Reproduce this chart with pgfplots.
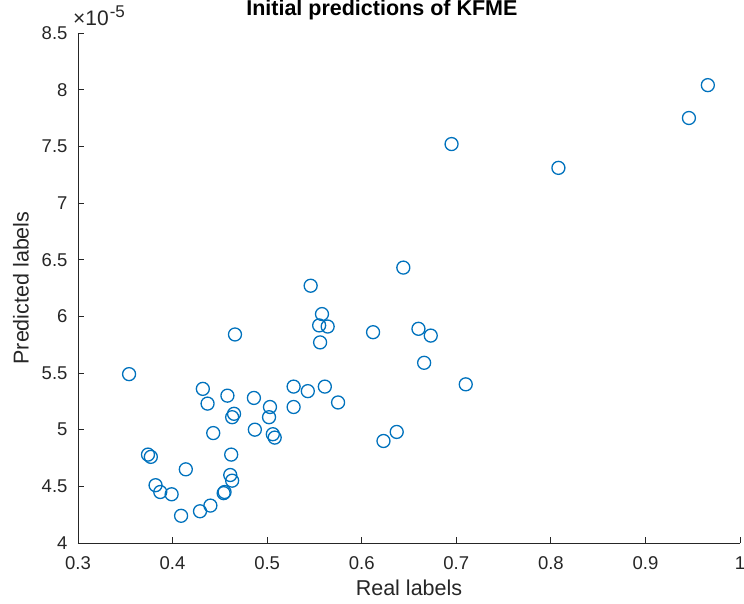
\documentclass[border=0pt]{standalone}
\usepackage{pgfplots}
\pgfplotsset{compat=1.18}
\usepackage{fontspec}
\setmainfont{Liberation Sans}
\definecolor{mblue}{rgb}{0,0.447,0.741}
\definecolor{axgray}{rgb}{0.15,0.15,0.15}
\begin{document}
\begin{tikzpicture}
\begin{axis}[
  at={(0pt,0pt)}, anchor=south west,
  width=662pt, height=510pt, scale only axis,
  xmin=0.3, xmax=1, ymin=4e-5, ymax=8.5e-5,
  xtick={0.3,0.4,...,1.0},
  xticklabels={0.3,0.4,0.5,0.6,0.7,0.8,0.9,1},
  ytick={4e-5,4.5e-5,5e-5,5.5e-5,6e-5,6.5e-5,7e-5,7.5e-5,8e-5,8.5e-5},
  scaled y ticks=base 10:5,
  ytick scale label code/.code={\mbox{\fontsize{21}{24}\selectfont ×10\kern1pt\raisebox{8pt}{\fontsize{17}{19}\selectfont -5}}},
  every y tick scale label/.style={at={(rel axis cs:0,1)}, anchor=base west, xshift=2pt, yshift=7pt, inner sep=0pt, text=axgray},
  axis x line*=bottom, axis y line*=left,
  axis line style={axgray, line width=0.8pt, -},
  tick style={axgray, line width=0.8pt},
  major tick length=6pt,
  tick align=inside,
  /pgf/number format/assume math mode=true,
  ticklabel style={font=\fontsize{18.5}{22}\selectfont, text=axgray},
  xticklabel style={yshift=-10pt},
  yticklabel style={xshift=-7pt},
  xlabel={Real labels}, ylabel={Predicted labels},
  label style={font=\fontsize{21.5}{24}\selectfont, text=axgray},
  xlabel style={yshift=-3pt},
  ylabel style={yshift=6pt},
  title={\textbf{Initial predictions of KFME}},
  title style={font=\fontsize{21.5}{24}\selectfont, at={(rel axis cs:0.459,1)}, anchor=base, yshift=11pt, inner sep=0pt},
  clip=false,
]
\addplot[only marks, mark=o, mark size=6.5pt, mark options={mblue, line width=1.3pt}] table {
x y
0.966 8.04e-5
0.946 7.75e-5
0.808 7.31e-5
0.695 7.52e-5
0.644 6.43e-5
0.546 6.27e-5
0.558 6.02e-5
0.555 5.92e-5
0.564 5.91e-5
0.556 5.77e-5
0.612 5.86e-5
0.660 5.89e-5
0.673 5.83e-5
0.466 5.84e-5
0.666 5.59e-5
0.710 5.40e-5
0.354 5.49e-5
0.432 5.36e-5
0.437 5.23e-5
0.458 5.30e-5
0.486 5.28e-5
0.528 5.38e-5
0.543 5.34e-5
0.561 5.38e-5
0.503 5.20e-5
0.528 5.20e-5
0.575 5.24e-5
0.465 5.14e-5
0.463 5.11e-5
0.502 5.11e-5
0.443 4.97e-5
0.487 5.00e-5
0.506 4.96e-5
0.508 4.93e-5
0.623 4.90e-5
0.637 4.98e-5
0.374 4.78e-5
0.377 4.76e-5
0.462 4.78e-5
0.414 4.65e-5
0.461 4.60e-5
0.463 4.55e-5
0.382 4.51e-5
0.387 4.45e-5
0.399 4.43e-5
0.454 4.44e-5
0.455 4.45e-5
0.440 4.33e-5
0.429 4.28e-5
0.409 4.24e-5
};
\end{axis}
\pgfresetboundingbox
\path[use as bounding box] (-78pt,-60pt) rectangle (666pt,543pt);
\end{tikzpicture}
\end{document}
